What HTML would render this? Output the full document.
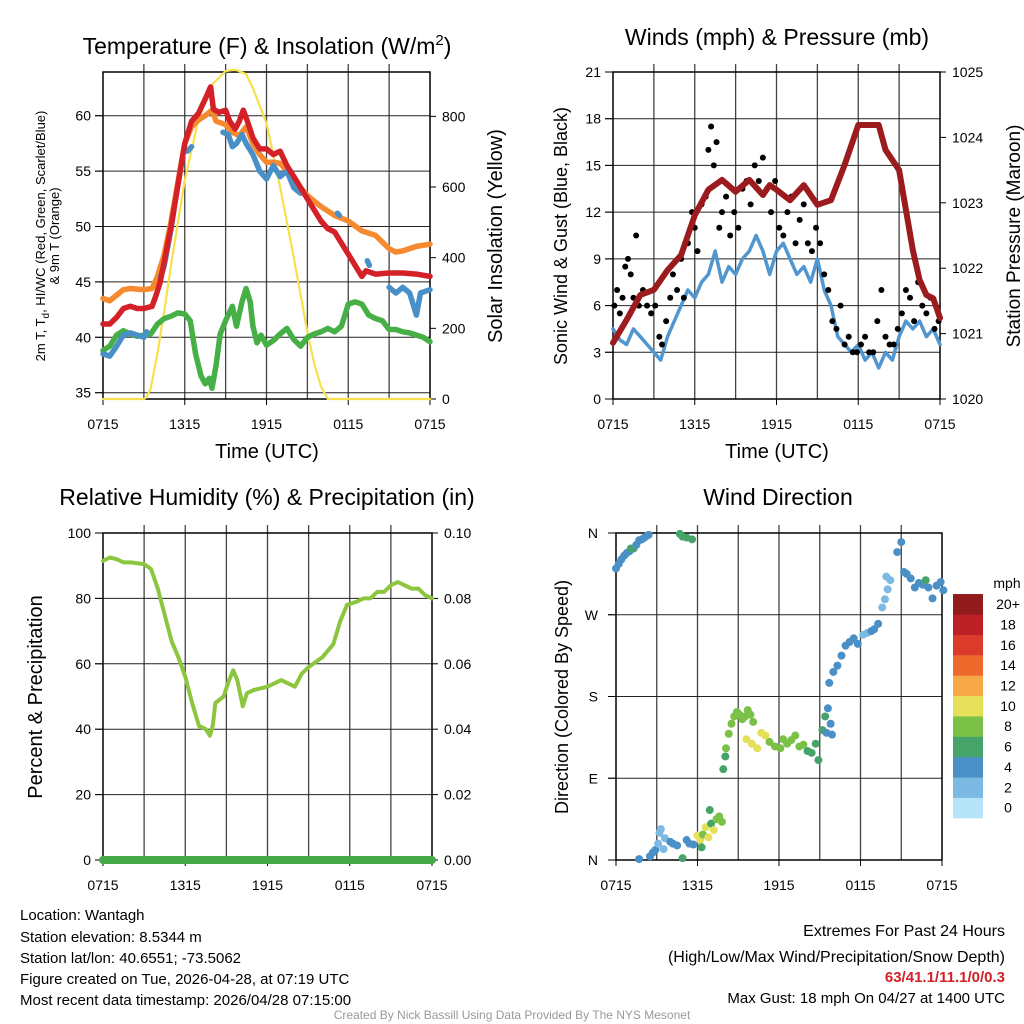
<!DOCTYPE html>
<html><head><meta charset="utf-8">
<style>
html,body{margin:0;padding:0;background:#fff;}
svg{display:block;font-family:"Liberation Sans",Arial,sans-serif;}
</style></head>
<body>
<svg id="chart" width="1024" height="1024" viewBox="0 0 1024 1024" xmlns="http://www.w3.org/2000/svg">
<rect width="1024" height="1024" fill="#fff"/>
<g id="layer"></g>
<!-- titles -->
<text x="267" y="54" font-size="23" text-anchor="middle">Temperature (F) &amp; Insolation (W/m<tspan dy="-9" font-size="15">2</tspan><tspan dy="9">)</tspan></text>
<text x="777" y="45" font-size="23" text-anchor="middle">Winds (mph) &amp; Pressure (mb)</text>
<text x="267" y="505" font-size="23" text-anchor="middle">Relative Humidity (%) &amp; Precipitation (in)</text>
<text x="778" y="505" font-size="23" text-anchor="middle">Wind Direction</text>
<!-- axis titles -->
<text transform="translate(45,236) rotate(-90)" font-size="13" text-anchor="middle">2m T, T<tspan dy="4" font-size="10">d</tspan><tspan dy="-4">, HI/WC (Red, Green, Scarlet/Blue)</tspan></text>
<text transform="translate(59,236) rotate(-90)" font-size="13" text-anchor="middle">&amp; 9m T (Orange)</text>
<text transform="translate(502,236) rotate(-90)" font-size="20" text-anchor="middle">Solar Insolation (Yellow)</text>
<text x="267" y="458" font-size="20" text-anchor="middle">Time (UTC)</text>
<text x="777" y="458" font-size="20" text-anchor="middle">Time (UTC)</text>
<text transform="translate(567,236) rotate(-90)" font-size="18" text-anchor="middle">Sonic Wind &amp; Gust (Blue, Black)</text>
<text transform="translate(1020,236) rotate(-90)" font-size="19" text-anchor="middle">Station Pressure (Maroon)</text>
<text transform="translate(42,697) rotate(-90)" font-size="20" text-anchor="middle">Percent &amp; Precipitation</text>
<text transform="translate(568,697) rotate(-90)" font-size="18" text-anchor="middle">Direction (Colored By Speed)</text>
<text x="1007" y="588" font-size="14" text-anchor="middle">mph</text>
<!-- footer -->
<g font-size="15">
<text x="20" y="920">Location: Wantagh</text>
<text x="20" y="942">Station elevation: 8.5344 m</text>
<text x="20" y="963">Station lat/lon: 40.6551; -73.5062</text>
<text x="20" y="984">Figure created on Tue, 2026-04-28, at 07:19 UTC</text>
<text x="20" y="1005">Most recent data timestamp: 2026/04/28 07:15:00</text>
</g>
<g font-size="15" text-anchor="end">
<text x="1005" y="936" font-size="16">Extremes For Past 24 Hours</text>
<text x="1005" y="962" font-size="16">(High/Low/Max Wind/Precipitation/Snow Depth)</text>
<text x="1005" y="982" font-weight="bold" fill="#d42027">63/41.1/11.1/0/0.3</text>
<text x="1005" y="1003">Max Gust: 18 mph On 04/27 at 1400 UTC</text>
</g>
<text x="512" y="1019" font-size="12" fill="#999" text-anchor="middle">Created By Nick Bassill Using Data Provided By The NYS Mesonet</text>
</svg>
<script>
// ---------- data ----------
const timeLabels = ["0715","1315","1915","0115","0715"];
const tempTicks = [35,40,45,50,55,60];
const solarTicks = [0,200,400,600,800];
const windTicks = [0,3,6,9,12,15,18,21];
const pressTicks = [1020,1021,1022,1023,1024,1025];
const rhTicks = [0,20,40,60,80,100];
const precipTicks = ["0.00","0.02","0.04","0.06","0.08","0.10"];
const dirTicks = [0,90,180,270,360];
const dirLabels = ["N","E","S","W","N"];
const speedBins = ["0","2","4","6","8","10","12","14","16","18","20+"];
const speedColors = ["#b5e3f7","#7cb9e3","#4a90c6","#46a46a","#7bc147","#e5e05a","#f6a846","#ee6a2c","#dc3a2a","#bd1f26","#921b1d"];

const redH = [0,0.5,1,1.5,2,2.5,3,3.6,3.9,4.2,4.6,5,5.4,5.8,6,6.5,7,7.5,7.9,8.1,8.5,9,9.3,9.7,10,10.3,10.6,11,11.5,12,12.5,13,13.5,14,14.5,15,15.5,16,16.5,17,17.5,18,18.5,19,19.3,20,21,22,23,24];
const redV = [41.2,41.2,41.8,42.6,42.8,42.6,42.6,42.8,43.8,45,47.5,50,53,56,57.5,59.5,60.2,61.5,62.6,60.6,60.3,60.5,59.5,58.8,59.5,60.5,59.5,58,57,57,56.5,56.8,55.5,54.5,53.5,52.5,51.5,50.5,49.8,49.5,48.5,47.5,46.5,45.5,46,45.7,45.8,45.8,45.7,45.5];
const orangeH = [0,0.5,1,1.5,2,3,3.6,4,4.5,5,5.5,6,6.5,7,7.5,8,8.3,9,9.5,10,10.5,11,11.5,12,12.5,13,13.5,14,14.5,15,16,17,18,19,20,21,21.5,22,23,24];
const orangeV = [43.5,43.3,43.8,44.3,44.4,44.3,44.4,45.5,47.5,50.5,54,57.5,59,59.6,60,60.5,59.5,59.2,58.5,58.2,59,57.5,56.5,55.8,55.8,55.7,55,54.5,53.5,52.8,51.8,51,50.5,49.6,49.2,48,47.7,47.8,48.2,48.4];
const blueH = [0,0.5,1,1.5,2,2.5,3,3.2,null,4.2,4.5,4.8,5,5.2,null,6.2,6.5,null,8.8,9.2,9.5,9.8,10.2,10.5,11,11.5,12,12.5,13,13.5,14,14.5,null,17.2,17.35,null,19.4,19.55,null,21,21.5,22,22.5,23,23.3,24];
const blueV = [38.5,38.3,39.2,40.2,40.4,40.2,40,40.5,null,45.3,46.5,48.5,49.8,51.5,null,56.8,57.2,null,58.5,58.3,57.2,57.5,58.3,57.5,56.5,55,54.3,55.5,54.5,55,53.5,53,null,51.2,51,null,46.9,46.5,null,44.5,44,44.5,44,42,44,44.3];
const greenH = [0,0.5,1,1.5,2,2.5,3,3.5,4,4.5,5,5.5,6,6.4,6.8,7.2,7.5,7.8,8,8.3,8.6,9,9.5,9.8,10.2,10.5,10.8,11,11.3,11.6,12,12.5,13,13.5,14,14.5,15,15.5,16,16.5,17,17.5,18,18.5,19,19.5,20,20.5,21,21.5,22,22.5,23,23.5,24];
const greenV = [38.8,39.2,40.2,40.6,40.3,40.1,40.2,40.3,41.2,41.7,41.9,42.2,42.1,41.5,38.5,36.5,35.8,36.3,35.4,37.5,40.3,41.5,42.8,41,43.2,44.4,43.2,41,39.5,40.2,39.3,39.7,40.3,40.8,39.8,39.2,40,40.3,40.5,40.8,40.5,41,43,43.2,43,42,41.7,41.5,40.7,40.7,40.5,40.4,40.2,40,39.6];
const solarH = [0,3,3.2,3.5,4,4.5,5,6,7,8,9,9.7,10.5,11,12,13,14,15,15.5,16,16.5,24];
const solarV = [0,0,5,30,130,250,380,620,790,890,928,932,920,880,780,600,400,190,100,35,0,0];

const windH = [0,0.5,1,1.5,2,2.5,3,3.5,4,4.5,5,5.5,6,6.5,7,7.5,8,8.5,9,9.5,10,10.5,11,11.5,12,12.5,13,13.5,14,14.5,15,15.5,16,16.5,17,17.5,18,18.5,19,19.5,20,20.5,21,21.5,22,22.5,23,23.5,24];
const windV = [4.5,3.8,3.5,4.5,4,3.5,3,2.5,4,5,6,7,6.5,7.5,8,9.5,7.5,8.5,8,9,9.5,10.5,9.5,8,9.5,10,9,8,8.5,7.5,9,7,6,4,3.5,3,3.5,2.5,3,2,3,2.5,4,5,4.5,5,4,4.5,3.5];
const gustH = [0.1,0.3,0.5,0.7,0.9,1.1,1.3,1.5,1.7,1.9,2.2,2.5,2.8,3.1,3.4,3.6,3.9,4.2,4.4,4.7,5,5.2,5.5,5.8,6,6.2,6.5,6.8,7,7.2,7.4,7.6,7.8,8,8.3,8.6,8.9,9.2,9.5,9.8,10.1,10.4,10.7,11,11.3,11.6,11.9,12.2,12.5,12.8,13.1,13.4,13.7,14,14.3,14.6,14.9,15.2,15.5,15.8,16.1,16.4,16.7,17,17.3,17.6,17.9,18.2,18.5,18.8,19.1,19.4,19.7,20,20.3,20.6,20.9,21.2,21.5,21.8,22.1,22.4,22.7,23,23.3,23.6,23.9];
const gustV = [6,7,5.5,6.5,8.5,9,8,6.5,10.5,6,7,6,5.5,6,4,3.5,5,6.5,8,7,9,6.5,10,12,11,9.5,12.5,13,16,17.5,15,16.5,11,12,13,10.5,12,11,13.5,14,12.5,15,14,15.5,13.5,12,14,11,10.5,12,13,10,11.5,12.5,10,9.5,11,10,8,7,5,4.5,6,3.5,4,3,3,3.5,4,3,3,5,7,4,3.5,3.5,4.5,5.5,7,6.5,5,7.5,6,5.5,6.5,4.5,5];
const pressH = [0,1,2,3,4,5,6,7,8,9,10,11,11.5,12,13,14,15,16,17,18,19,19.5,20,21,22,22.5,23,23.5,24];
const pressV = [1020.86,1021.21,1021.59,1021.67,1021.97,1022.2,1022.81,1023.2,1023.35,1023.17,1023.35,1023.12,1023.27,1023.2,1023.04,1023.27,1022.97,1023.04,1023.58,1024.19,1024.19,1024.19,1023.81,1023.5,1022.28,1021.82,1021.59,1021.54,1021.24];

const rhH = [0,0.5,1,1.5,2,3,3.5,4,4.5,5,5.5,6,6.5,7,7.5,7.8,8,8.2,8.8,9.2,9.5,9.8,10.2,10.5,11,12,13,14,14.5,15,16,16.8,17.3,17.8,18.5,19,19.5,20,20.5,21,21.5,22,22.5,23,23.5,24];
const rhV = [91.5,92.5,92,91,91,90.5,89,83,75,67,62,56,48,41,40,38,41,48,50,55,58,55,47,51,52,53,55,53,57,59,62,66,73,78,79,80,80,82,82,84,85,84,83,83,81,80];
const precipH = [0,24];
const precipV = [0,0];

const dirH = [0,0.2,0.4,0.6,0.8,1,1.1,1.3,1.5,1.7,1.9,2.1,2.3,2.4,4.7,4.9,5.2,5.6,1.7,2.5,2.7,2.9,3.1,3.2,3.3,3.5,3.6,4,4.2,4.5,4.9,5.2,5.4,5.7,6,6.2,6.4,6.6,6.8,7,7.2,7.4,7.6,7.8,6.3,6.9,7.9,8.05,8.1,8.3,8.5,8.7,8.9,9.1,9.3,9.5,9.7,9.9,10.1,9.6,10,10.4,10.7,11,11.3,11.7,12.1,12.3,12.6,12.9,13.2,13.5,13.8,14.1,14.4,14.7,14.9,15.2,15.4,15.6,15.8,15.9,15.5,15.7,16,16.3,16.6,16.9,17.2,17.5,17.8,18.2,18.5,18.8,19,19.3,19.6,19.8,20,20.2,19.9,20.7,21,21.2,21.4,21.7,22,22.3,22.6,22.8,23,23.3,23.6,23.9,24.1];
const dirV = [321,326,331,335,338,340,343,343,347,352,353,355,357,358,359,356,355,353,1,4,8,11,18,30,34,12,24,20,18,16,2,22,18,17,27,22,28,36,25,40,33,45,48,42,14,55,100,114,123,139,150,158,163,160,155,158,165,160,152,133,128,123,140,137,130,125,123,133,128,132,137,125,127,120,118,128,110,143,158,167,150,138,140,195,207,214,225,236,240,244,238,248,250,252,254,260,278,287,298,308,312,339,350,317,315,310,300,305,303,308,300,288,302,306,297,301,303];
const dirS = [4,4,4,4,4,4,6,6,4,4,4,4,4,4,6,6,6,6,4,4,4,4,2,2,2,2,2,4,4,4,6,4,4,4,10,10,8,10,10,6,10,8,8,8,6,6,6,6,8,8,8,8,8,8,8,8,8,8,8,10,10,10,10,10,8,8,8,8,8,8,8,8,8,6,6,6,6,6,6,4,4,4,4,4,4,4,4,4,4,4,4,2,2,4,4,4,2,2,2,2,2,4,4,4,4,4,4,4,4,6,4,4,4,4,4,4,4];

// ---------- drawing ----------
const NS="http://www.w3.org/2000/svg";
const layer=document.getElementById("layer");
function el(tag,attrs,parent){const e=document.createElementNS(NS,tag);for(const k in attrs)e.setAttribute(k,attrs[k]);(parent||layer).appendChild(e);return e;}

const P1={x0:103,x1:430,y0:72,y1:399};
const P2={x0:613,x1:940,y0:72,y1:399};
const P3={x0:103,x1:432,y0:533,y1:860};
const P4={x0:616,x1:942,y0:533,y1:860};
function xs(P){return h=>P.x0+h*(P.x1-P.x0)/24;}
const x1=xs(P1),x2=xs(P2),x3=xs(P3),x4=xs(P4);
const yTemp=v=>392.7-(v-35)*11.08;
const ySolar=v=>399-v*0.3533;
const yWind=v=>P2.y1-v*(P2.y1-P2.y0)/21;
const yPress=v=>P2.y1-(v-1020)*(P2.y1-P2.y0)/5;
const yRH=v=>P3.y1-v*(P3.y1-P3.y0)/100;
const yPrecip=v=>P3.y1-v*(P3.y1-P3.y0)/0.1;
const yDir=v=>P4.y1-v*(P4.y1-P4.y0)/360;

function frame(P,name,hLines,xf){
  const g=el("g",{});
  
  
  for(let h=3;h<24;h+=3){const l=el("line",{x1:xf(h),x2:xf(h),y1:P.y0-8,y2:P.y1,stroke:"#444","stroke-width":1.3},g);
    
    }
  hLines.forEach(y=>{const l=el("line",{x1:P.x0-8,x2:P.x1,y1:y,y2:y,stroke:"#222","stroke-width":1},g);
    
    });
  const r=el("rect",{x:P.x0,y:P.y0,width:P.x1-P.x0,height:P.y1-P.y0,fill:"none",stroke:"#000","stroke-width":1.5},g);
  
  
  timeLabels.forEach((t,i)=>{const x=xf(i*6);
    el("line",{x1:x,x2:x,y1:P.y1,y2:P.y1+6,stroke:"#000"},g);
    const tx=el("text",{x:x,y:P.y1+30,"font-size":14,"text-anchor":"middle"},g);tx.textContent=t;
    
    });
  return g;
}
function leftTicks(P,vals,yf,labels,name){
  vals.forEach((v,i)=>{const y=yf(v);
    el("line",{x1:P.x0-8,x2:P.x0,y1:y,y2:y,stroke:"#000"});
    const t=el("text",{x:P.x0-12,y:y+5,"font-size":14,"text-anchor":"end"});t.textContent=labels?labels[i]:v;
    
    });
}
function rightTicks(P,vals,yf,labels,name){
  vals.forEach((v,i)=>{const y=yf(v);
    el("line",{x1:P.x1,x2:P.x1+6,y1:y,y2:y,stroke:"#000"});
    const t=el("text",{x:P.x1+12,y:y+5,"font-size":14,"text-anchor":"start"});t.textContent=labels?labels[i]:v;
    
    });
}
function line(H,V,xf,yf,color,w,name){
  let d="",pen=false;
  for(let i=0;i<H.length;i++){if(H[i]===null||V[i]===null){pen=false;continue;}
    d+=(pen?"L":"M")+xf(H[i]).toFixed(1)+","+yf(V[i]).toFixed(1);pen=true;}
  const p=el("path",{d:d,fill:"none",stroke:color,"stroke-width":w,"stroke-linejoin":"round","stroke-linecap":"round"});
  
  
}

// Panel 1
frame(P1,"temperature",tempTicks.map(yTemp),x1);
leftTicks(P1,tempTicks,yTemp,null,"temperature-y");
rightTicks(P1,solarTicks,ySolar,null,"insolation-y");
line(solarH,solarV,x1,ySolar,"#f6e04b",2.2,"solar-insolation-line");
line(greenH,greenV,x1,yTemp,"#46b046",5.5,"dewpoint-line");
line(orangeH,orangeV,x1,yTemp,"#f58a30",5.5,"temp-9m-line");
line(blueH,blueV,x1,yTemp,"#4a90c8",5.5,"heat-index-windchill-line");
line(redH,redV,x1,yTemp,"#d42027",5.5,"temp-2m-line");

// Panel 2
frame(P2,"winds",windTicks.slice(1,-1).map(yWind),x2);
leftTicks(P2,windTicks,yWind,null,"wind-y");
rightTicks(P2,pressTicks,yPress,null,"pressure-y");
line(windH,windV,x2,yWind,"#5196cf",3.5,"sonic-wind-line");
for(let i=0;i<gustH.length;i++){
  const c=el("circle",{cx:x2(gustH[i]),cy:yWind(gustV[i]),r:3,fill:"#000"});
  
  
}
line(pressH,pressV,x2,yPress,"#9b1b1e",6,"pressure-line");

// Panel 3
frame(P3,"humidity",rhTicks.slice(1,-1).map(yRH),x3);
leftTicks(P3,rhTicks,yRH,null,"humidity-y");
rightTicks(P3,[0,0.02,0.04,0.06,0.08,0.1],yPrecip,precipTicks,"precip-y");
line(rhH,rhV,x3,yRH,"#8cc63f",4,"relative-humidity-line");
line(precipH,precipV,x3,yPrecip,"#46a846",8,"precipitation-line");

// Panel 4
frame(P4,"direction",[90,180,270].map(yDir),x4);
dirTicks.forEach((d,i)=>{const y=yDir(d);
  el("line",{x1:P4.x0-8,x2:P4.x0,y1:y,y2:y,stroke:"#000"});
  const t=el("text",{x:P4.x0-18,y:y+5,"font-size":14,"text-anchor":"end"});t.textContent=dirLabels[i];
  
  });
for(let i=0;i<dirH.length;i++){
  const c=el("circle",{cx:x4(dirH[i]),cy:yDir(dirV[i]),r:4,fill:speedColors[Math.min(10,Math.round(dirS[i]/2))]});
  
  
}
// legend colorbar: 11 boxes from 594 to 818
for(let i=0;i<11;i++){
  const y=818-(i+1)*20.36;
  const r=el("rect",{x:953,y:y,width:30,height:20.6,fill:speedColors[i]});
  
  
  const t=el("text",{x:1008,y:y+15,"font-size":14,"text-anchor":"middle"});t.textContent=speedBins[i];
  
  
}
</script>
</body></html>
